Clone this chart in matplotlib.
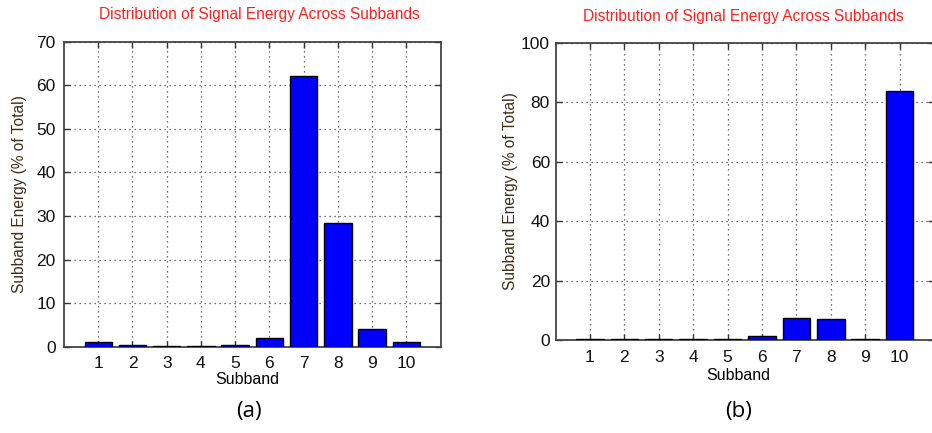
import matplotlib
matplotlib.use("Agg")
import matplotlib.pyplot as plt

subbands = [1, 2, 3, 4, 5, 6, 7, 8, 9, 10]
energy_a = [1.0, 0.5, 0.2, 0.2, 0.5, 2.1, 62.2, 28.3, 4.0, 1.0]
energy_b = [0.2, 0.2, 0.2, 0.2, 0.2, 1.2, 7.5, 7.1, 0.2, 83.8]
yticks_a = [0, 10, 20, 30, 40, 50, 60, 70]
yticks_b = [0, 20, 40, 60, 80, 100]
title = "Distribution of Signal Energy Across Subbands"
xlabel = "Subband"
ylabel = "Subband Energy (% of Total)"

plt.rcParams['font.family'] = ['Liberation Sans', 'DejaVu Sans']

fig = plt.figure(figsize=(9.32, 4.33), dpi=100)

def draw(rect, vals, yticks, ylim, title_x, title_y, xl_pos, yl_x, lab, lab_x, lab_y, ypad):
    ax = fig.add_axes(rect)
    ax.bar(subbands, vals, width=0.8, color='#0000ff', edgecolor='black', linewidth=1.0, zorder=3)
    ax.set_xlim(0, 11)
    ax.set_ylim(*ylim)
    ax.set_xticks(subbands)
    ax.set_yticks(yticks)
    ax.tick_params(direction='in', top=True, right=True, labelsize=12.5, length=4, width=1.0,
                   colors='#333333', labelcolor='#111111')
    ax.tick_params(axis='x', pad=7)
    ax.tick_params(axis='y', pad=ypad)
    ax.grid(True, linestyle=(0, (1, 3)), color='#444444', linewidth=0.9, zorder=0)
    for s in ax.spines.values():
        s.set_linewidth(1.3)
        s.set_color('#444444')
    fig.text(yl_x, rect[1] + rect[3] / 2, ylabel, fontsize=11.2, color='#3b2f1e',
             rotation=90, ha='center', va='center')
    fig.text(title_x, title_y, title, color='#ff2020', fontsize=11.2, ha='center', va='center')
    fig.text(xl_pos[0], xl_pos[1], xlabel, fontsize=11.5, ha='center', va='center')
    fig.text(lab_x, lab_y, lab, fontsize=16, ha='center', va='center', family=['Open Sans', 'DejaVu Sans'])
    return ax

draw([64/932, (433-346.7)/433, (440.5-64)/932, (346.7-41.7)/433], energy_a, yticks_a, (0, 70),
     259.5/932, 1-14/433, (247/932, 1-380/433), 20/932, "(a)", 249/932, 1-411/433, 6)
draw([555.5/932, (433-340)/433, (934-555.5)/932, (340-42.7)/433], energy_b, yticks_b, (0, 100),
     743/932, 1-16/433, (738/932, 1-375/433), 511/932, "(b)", 739/932, 1-411/433, 4)

fig.savefig("out.png", dpi=100)
